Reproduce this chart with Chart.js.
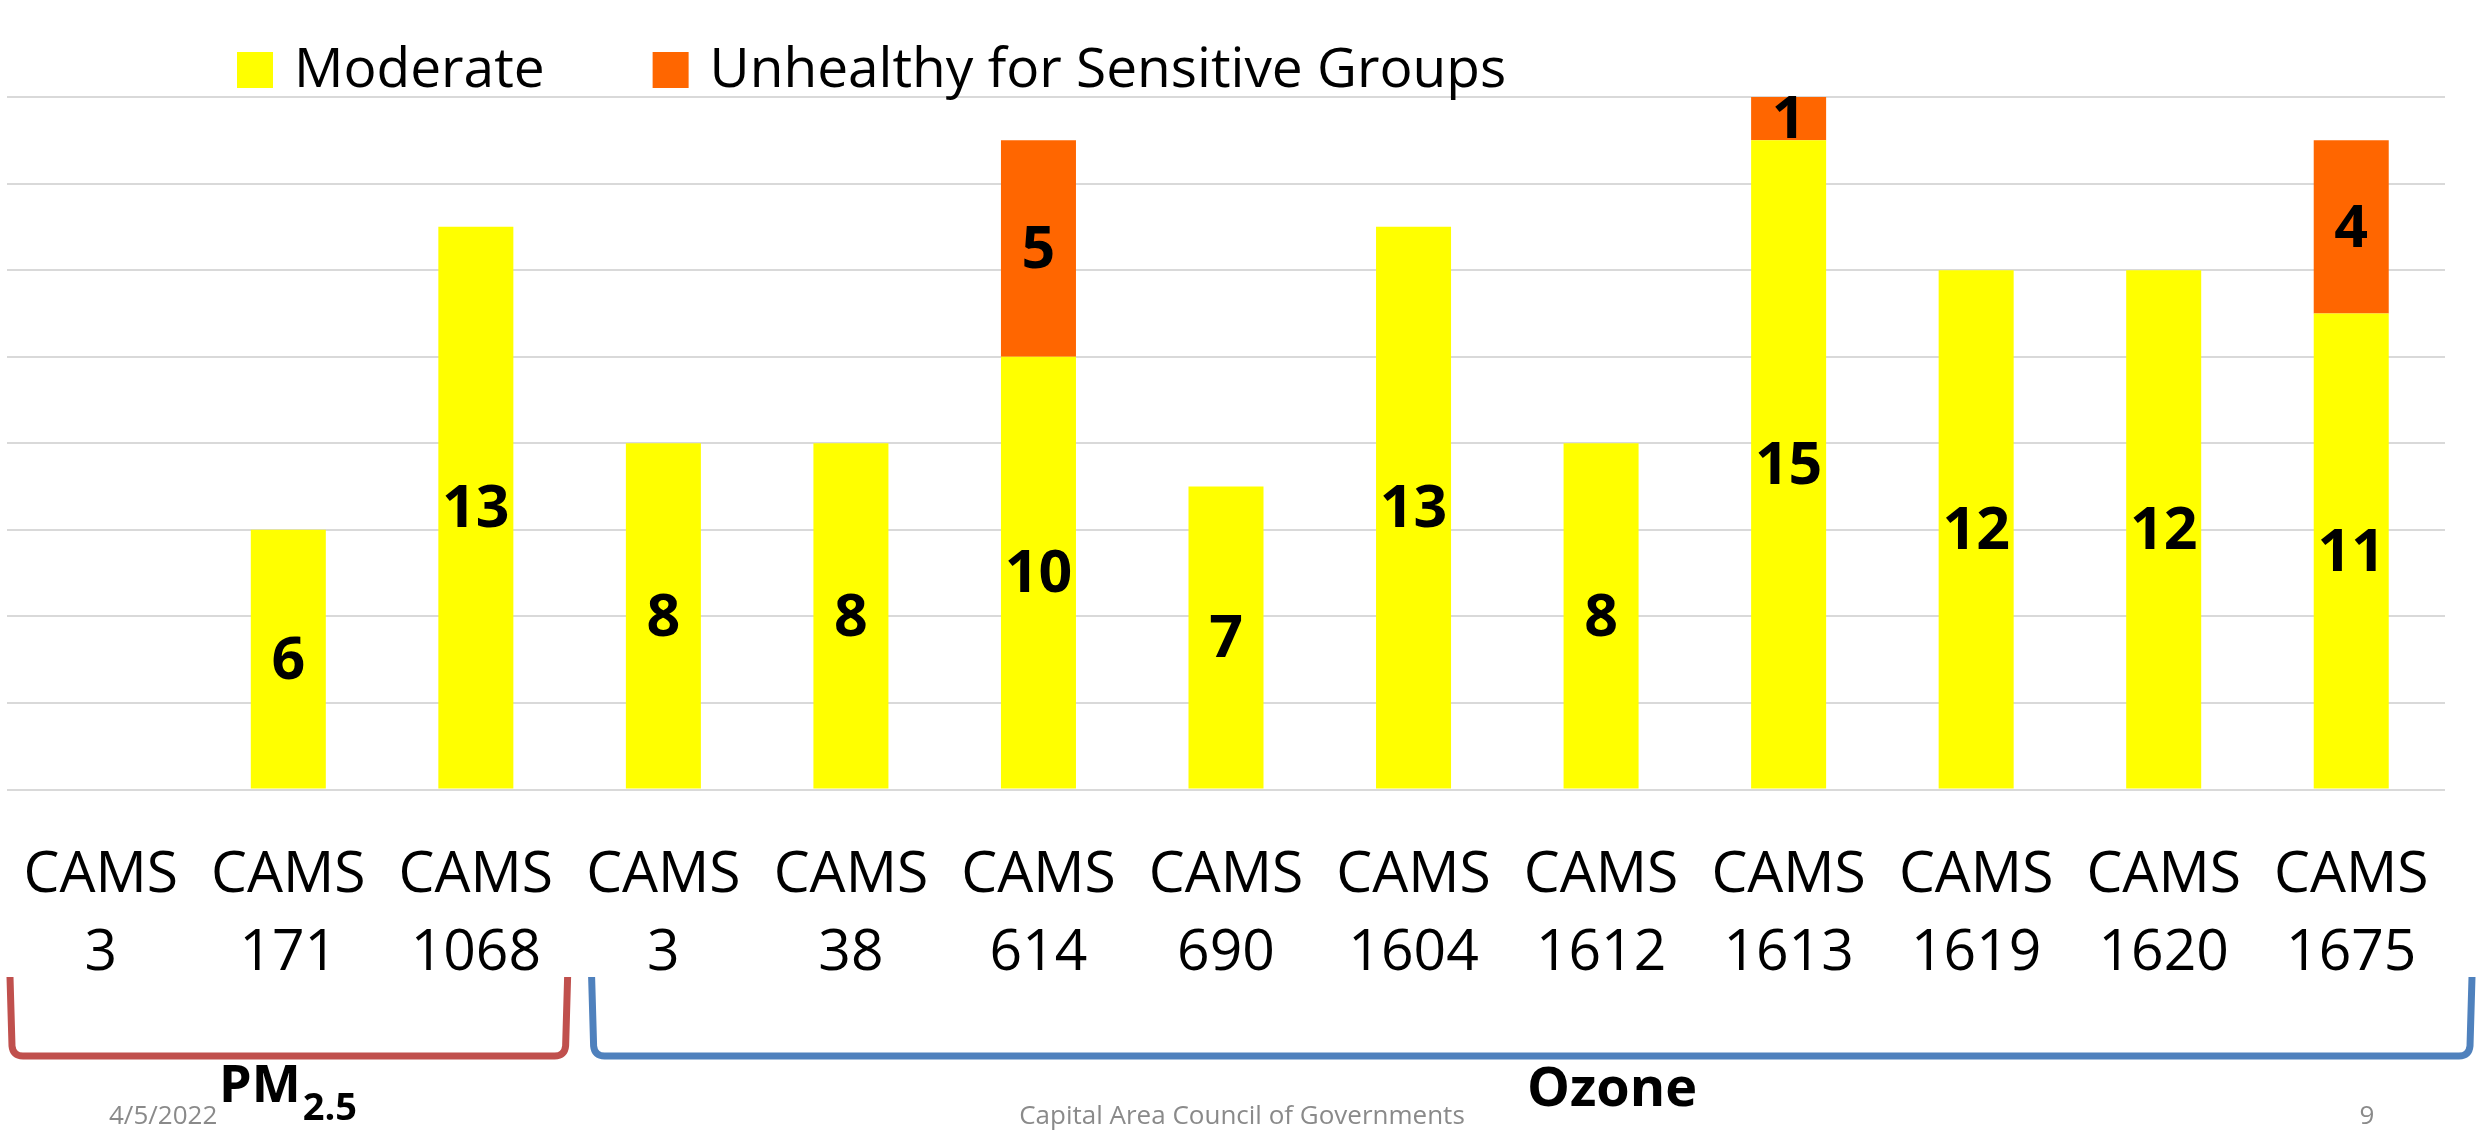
<!DOCTYPE html>
<html>
<head>
<meta charset="utf-8">
<title>CAMS AQI days</title>
<script src="https://cdn.jsdelivr.net/npm/chart.js@4/dist/chart.umd.min.js"></script>
<style>
    html, body { margin: 0; padding: 0; background: #fff; }
    #wrap { width: 2483px; height: 1131px; }
</style>
</head>
<body>
<div id="wrap"><canvas id="aqiChart" width="2483" height="1131"></canvas></div>
<script>
// Data
const sites = [
    ["CAMS", "3"], ["CAMS", "171"], ["CAMS", "1068"],
    ["CAMS", "3"], ["CAMS", "38"], ["CAMS", "614"], ["CAMS", "690"],
    ["CAMS", "1604"], ["CAMS", "1612"], ["CAMS", "1613"], ["CAMS", "1619"],
    ["CAMS", "1620"], ["CAMS", "1675"],
];
const moderate = [0, 6, 13, 8, 8, 10, 7, 13, 8, 15, 12, 12, 11];
const unhealthySG = [0, 0, 0, 0, 0, 5, 0, 0, 0, 1, 0, 0, 4];
const yTicks = [0, 2, 4, 6, 8, 10, 12, 14, 16];

const FONT = "'Open Sans', 'DejaVu Sans', sans-serif";

// Value labels in the middle of each segment
const segmentLabels = {
    id: "segmentLabels",
    afterDatasetsDraw(chart) {
        const ctx = chart.ctx;
        ctx.save();
        ctx.font = "bold 59px " + FONT;
        ctx.fillStyle = "#000";
        ctx.textAlign = "center";
        ctx.textBaseline = "middle";
        chart.data.datasets.forEach((ds, di) => {
            chart.getDatasetMeta(di).data.forEach((bar, i) => {
                const v = ds.data[i];
                if (!v) return;
                ctx.fillText(String(v), bar.x, (bar.y + bar.base) / 2 + 3);
            });
        });
        ctx.restore();
    },
};

// Legend, brackets and slide footer
const decorations = {
    id: "decorations",
    afterDraw(chart) {
        const ctx = chart.ctx;
        const x = chart.scales.x;
        ctx.save();

        // legend
        ctx.font = "55px " + FONT;
        ctx.textBaseline = "alphabetic";
        ctx.textAlign = "left";
        let lx = 237;
        chart.data.datasets.forEach((ds) => {
            ctx.fillStyle = ds.backgroundColor;
            ctx.fillRect(lx, 52, 36, 36);
            ctx.fillStyle = "#000";
            ctx.fillText(ds.label, lx + 57, 87);
            lx += 57 + ctx.measureText(ds.label).width + 108;
        });

        // brackets under the axis labels
        const half = (x.getPixelForValue(1) - x.getPixelForValue(0)) / 2;
        const bracket = (left, right, color) => {
            const top = 977, bottom = 1056, r = 10;
            ctx.strokeStyle = color;
            ctx.lineWidth = 7;
            ctx.lineJoin = "round";
            ctx.beginPath();
            ctx.moveTo(left, top);
            ctx.lineTo(left + 2, bottom - r);
            ctx.quadraticCurveTo(left + 3, bottom, left + r + 3, bottom);
            ctx.lineTo(right - r - 3, bottom);
            ctx.quadraticCurveTo(right - 3, bottom, right - 2, bottom - r);
            ctx.lineTo(right, top);
            ctx.stroke();
        };
        bracket(x.getPixelForValue(0) - half + 3, x.getPixelForValue(2) + half - 2, "#C0504D");
        bracket(x.getPixelForValue(3) - half + 22, x.getPixelForValue(12) + half + 27, "#4F81BD");

        // group names
        ctx.fillStyle = "#000";
        ctx.font = "bold 52px " + FONT;
        ctx.fillText("PM", 219, 1102);
        const pmW = ctx.measureText("PM").width;
        ctx.font = "bold 38px " + FONT;
        ctx.fillText("2.5", 219 + pmW + 2, 1120);
        ctx.font = "bold 54px " + FONT;
        ctx.fillText("Ozone", 1527, 1106);

        // footer
        ctx.fillStyle = "#8a8a8a";
        ctx.font = "26px " + FONT;
        ctx.fillText("4/5/2022", 109, 1124);
        ctx.textAlign = "center";
        ctx.fillText("Capital Area Council of Governments", 1242, 1124);
        ctx.fillText("9", 2367, 1124);
        ctx.restore();
    },
};

// Chart
const aqiChart = new Chart(document.getElementById("aqiChart").getContext("2d"), {
    type: "bar",
    data: {
        labels: sites,
        datasets: [
            {
                label: "Moderate",
                data: moderate,
                backgroundColor: "#FFFF00",
                borderWidth: 0,
            },
            {
                label: "Unhealthy for Sensitive Groups",
                data: unhealthySG,
                backgroundColor: "#FF6600",
                borderWidth: 0,
            },
        ],
    },
    options: {
        responsive: false,
        animation: false,
        events: [],
        layout: {
            padding: { left: 7, right: 38, top: 97, bottom: 0 },
        },
        datasets: {
            bar: {
                barPercentage: 1,
                categoryPercentage: 0.4,
            },
        },
        plugins: {
            legend: { display: false },
            tooltip: { enabled: false },
        },
        scales: {
            x: {
                stacked: true,
                // tick marks hidden, their length only pushes the labels down
                grid: { display: false, drawTicks: true, tickLength: 47 },
                border: { display: false },
                ticks: {
                    autoSkip: false,
                    maxRotation: 0,
                    padding: 0,
                    color: "#000",
                    font: { family: FONT, size: 57, lineHeight: 1.37 },
                },
                afterFit(scale) {
                    scale.height = 1131 - 789.5;
                },
            },
            y: {
                stacked: true,
                min: yTicks[0],
                max: yTicks[yTicks.length - 1],
                afterBuildTicks(scale) {
                    scale.ticks = yTicks.map((v) => ({ value: v }));
                },
                grid: { color: "#d9d9d9", lineWidth: 2, drawTicks: false },
                border: { display: false },
                ticks: { display: false },
                afterFit(scale) {
                    scale.width = 0;
                },
            },
        },
    },
    plugins: [segmentLabels, decorations],
});
</script>
</body>
</html>
